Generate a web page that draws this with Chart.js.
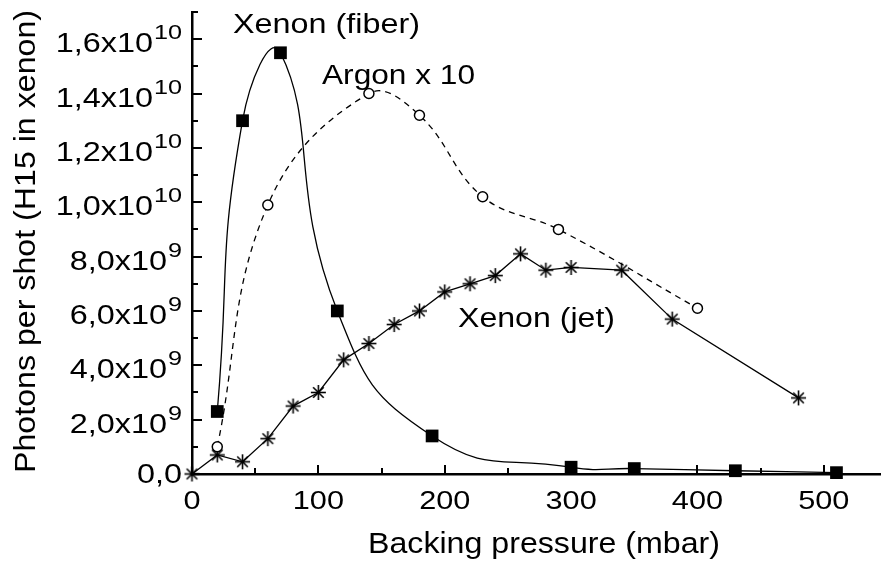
<!DOCTYPE html>
<html>
<head>
<meta charset="utf-8">
<script src="https://cdn.jsdelivr.net/npm/chart.js@4"></script>
<style>
  html, body { margin: 0; padding: 0; background: #fff; }
  #wrap { width: 890px; height: 566px; position: relative; }
</style>
</head>
<body>
<div id="wrap"><canvas id="myChart"></canvas></div>
<script>
// backing pressure (mbar) and photons per shot
const fiberX = [20, 40, 70, 115, 190, 300, 350, 430, 510];
const fiberY = [2.3e9, 1.3e10, 1.55e10, 6.0e9, 1.4e9, 0.25e9, 0.2e9, 0.12e9, 0.05e9];

const argonX = [20, 60, 140, 180, 230, 290, 400];
const argonY = [1.0e9, 9.9e9, 1.4e10, 1.32e10, 1.02e10, 9.0e9, 6.1e9];

const jetX = [0, 20, 40, 60, 80, 100, 120, 140, 160, 180, 200, 220, 240, 260, 280, 300, 340, 380, 480];
const jetY = [0, 0.7e9, 0.45e9, 1.3e9, 2.5e9, 3.0e9, 4.2e9, 4.8e9, 5.5e9, 6.0e9, 6.7e9, 7.0e9, 7.3e9, 8.1e9, 7.5e9, 7.6e9, 7.5e9, 5.7e9, 2.8e9];

const xTickValues = [0, 100, 200, 300, 400, 500];
const yTickValues = [0, 2e9, 4e9, 6e9, 8e9, 1e10, 1.2e10, 1.4e10, 1.6e10];
const yTickBase = ['0,0', '2,0x10', '4,0x10', '6,0x10', '8,0x10', '1,0x10', '1,2x10', '1,4x10', '1,6x10'];
const yTickExp = ['', '9', '9', '9', '9', '10', '10', '10', '10'];

const FONT = '"Liberation Sans", Arial, Helvetica, sans-serif';

(() => {
    const toPoints = (xs, ys) => xs.map((x, i) => ({ x: x, y: ys[i] }));

    // asterisk marker
    const star = document.createElement('canvas');
    star.width = 19; star.height = 19;
    const sc = star.getContext('2d');
    sc.strokeStyle = '#000';
    sc.lineWidth = 1.6;
    for (let k = 0; k < 4; k++) {
        const a = k * Math.PI / 4;
        sc.beginPath();
        sc.moveTo(9.5 + 7.5 * Math.cos(a), 9.5 + 7.5 * Math.sin(a));
        sc.lineTo(9.5 - 7.5 * Math.cos(a), 9.5 - 7.5 * Math.sin(a));
        sc.stroke();
    }

    function txt(ctx, s, x, y, size, sx, align) {
        ctx.save();
        ctx.font = size + 'px ' + FONT;
        ctx.translate(x, y);
        ctx.scale(sx, 1);
        ctx.textAlign = align || 'left';
        ctx.textBaseline = 'alphabetic';
        ctx.fillStyle = '#000';
        ctx.fillText(s, 0, 0);
        ctx.restore();
    }
    function width(ctx, s, size) {
        ctx.save();
        ctx.font = size + 'px ' + FONT;
        const w = ctx.measureText(s).width;
        ctx.restore();
        return w;
    }
    function fitText(ctx, s, left, right, base, size) {
        txt(ctx, s, left, base, size, (right - left) / width(ctx, s, size), 'left');
    }

    const decor = {
        id: 'decor',
        afterDraw(chart) {
            const ctx = chart.ctx;
            const xs = chart.scales.x, ys = chart.scales.y;
            const x0 = xs.left, y0 = ys.bottom;
            ctx.save();
            ctx.strokeStyle = '#000';
            ctx.lineWidth = 2;
            // y ticks, pointing inward
            for (let v = 0; v <= 1.7e10; v += 1e9) {
                const py = Math.round(ys.getPixelForValue(v));
                const major = Math.round(v / 1e9) % 2 === 0;
                ctx.beginPath();
                ctx.moveTo(x0, py);
                ctx.lineTo(x0 + (major ? 10 : 6), py);
                ctx.stroke();
            }
            for (let v = 50; v <= 545; v += 50) {
                const px = Math.round(xs.getPixelForValue(v));
                const major = v % 100 === 0;
                ctx.beginPath();
                ctx.moveTo(px, y0);
                ctx.lineTo(px, y0 - (major ? 9 : 6));
                ctx.stroke();
            }
            ctx.restore();

            // y tick labels with superscript exponents
            const sx = 1.2, right = 182;
            yTickValues.forEach((v, i) => {
                const py = ys.getPixelForValue(v);
                if (yTickExp[i] === '') {
                    txt(ctx, yTickBase[i], right, py + 9, 27, sx, 'right');
                } else {
                    const ew = width(ctx, yTickExp[i], 21) * sx;
                    txt(ctx, yTickExp[i], right, py, 21, sx, 'right');
                    txt(ctx, yTickBase[i], right - ew - 1, py + 13, 27, sx, 'right');
                }
            });
            xTickValues.forEach(v => {
                txt(ctx, String(v), xs.getPixelForValue(v), 509, 26, 1.18, 'center');
            });

            // axis titles
            fitText(ctx, 'Backing pressure (mbar)', 368, 720, 553, 29);
            ctx.save();
            ctx.translate(35, 473);
            ctx.rotate(-Math.PI / 2);
            fitText(ctx, 'Photons per shot (H15 in xenon)', 0, 463, 0, 30);
            ctx.restore();

            // curve labels
            fitText(ctx, 'Xenon (fiber)', 233, 420, 33, 27);
            fitText(ctx, 'Argon x 10', 322, 475, 84, 27);
            fitText(ctx, 'Xenon (jet)', 458, 615, 327, 27);
        }
    };

    const ctx = document.getElementById('myChart');
    const data = {
        datasets: [
            {
                label: 'Xenon (fiber)',
                data: toPoints(fiberX, fiberY),
                borderColor: '#000',
                borderWidth: 1.3,
                tension: 0.5,
                pointStyle: 'rect',
                pointRadius: 9,
                pointBackgroundColor: '#000',
                pointBorderColor: '#000',
                pointBorderWidth: 0,
                clip: false
            },
            {
                label: 'Argon x 10',
                data: toPoints(argonX, argonY),
                borderColor: '#000',
                borderWidth: 1.3,
                borderDash: [6, 5],
                tension: 0.4,
                pointStyle: 'circle',
                pointRadius: 5,
                pointBackgroundColor: '#fff',
                pointBorderColor: '#000',
                pointBorderWidth: 1.5,
                clip: false
            },
            {
                label: 'Xenon (jet)',
                data: toPoints(jetX, jetY),
                borderColor: '#000',
                borderWidth: 1.3,
                tension: 0,
                pointStyle: star,
                pointRadius: 8,
                clip: false
            }
        ]
    };
    const config = {
        type: 'line',
        data: data,
        options: {
            animation: false,
            responsive: true,
            maintainAspectRatio: false,
            layout: { padding: { top: 12, right: 0, left: 0, bottom: 0 } },
            plugins: { legend: { display: false }, tooltip: { enabled: false } },
            scales: {
                x: {
                    type: 'linear',
                    min: 0,
                    max: 545,
                    ticks: { display: false },
                    grid: { display: false },
                    border: { display: true, color: '#000', width: 2.5 },
                    afterFit: s => { s.height = 92; }
                },
                y: {
                    type: 'linear',
                    min: 0,
                    max: 1.7e10,
                    ticks: { display: false },
                    grid: { display: false },
                    border: { display: true, color: '#000', width: 2.5 },
                    afterFit: s => { s.width = 192; }
                }
            }
        },
        plugins: [decor]
    };
    new Chart(ctx, config);
})();
</script>
</body>
</html>
